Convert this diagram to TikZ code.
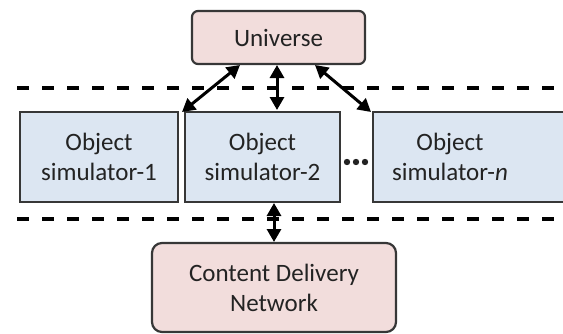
\documentclass[tikz,border=0pt]{standalone}
\usepackage{fontspec}
\setmainfont{Carlito}
\usetikzlibrary{arrows.meta,calc}
\definecolor{pinkfill}{RGB}{242,221,220}
\definecolor{bluefill}{RGB}{220,230,242}
\definecolor{edgec}{RGB}{55,55,55}
\definecolor{txt}{RGB}{35,35,35}
\begin{document}
\begin{tikzpicture}[x=0.5pt,y=-0.5pt,
  box/.style={draw=edgec,line width=1.1pt,text=txt,font=\fontsize{12.5}{15}\selectfont,align=center,inner sep=0pt},
  pinkbox/.style={box,fill=pinkfill},
  bluebox/.style={box,fill=bluefill},
  sepline/.style={draw=black,line width=2pt,dash pattern=on 6pt off 6.5pt},
  link/.style={{Triangle[length=6.5pt,width=7pt]}-{Triangle[length=6.5pt,width=7pt]},line width=1.5pt,draw=black}]
\useasboundingbox (0,0) rectangle (563,333);
% separators
\coordinate (s1a) at (17,88); \coordinate (s1b) at (566,88);
\coordinate (s2a) at (17,219); \coordinate (s2b) at (566,219);
\draw[sepline] (s1a) -- (s1b);
\draw[sepline] (s2a) -- (s2b);
% nodes
\node[pinkbox,rounded corners=3pt,minimum width=86.5pt,minimum height=26.5pt] (uni) at (278.5,37.5) {Universe};
\node[bluebox,minimum width=79pt,minimum height=45pt] (obj1) at (99,157) {Object\\simulator-1};
\node[bluebox,minimum width=77.5pt,minimum height=45pt] (obj2) at (262.5,157) {Object\\simulator-2};
\fill[bluefill] (373,112) rectangle (566,202);
\draw[edgec,line width=1.1pt] (568,112) -- (373,112) -- (373,202) -- (568,202);
\node[box,draw=none] (objn) at (450,157) {Object\\simulator-\emph{n}};
\node[pinkbox,rounded corners=5pt,minimum width=122pt,minimum height=44.5pt] (cdn) at (274,287.5) {Content Delivery\\Network};
% dots
\foreach \xx in {347,356,365} \fill[txt] (\xx,162) circle (1.6pt);
% connectors
\coordinate (u1) at (240,65); \coordinate (t1) at (182,112);
\coordinate (u2) at (277,65); \coordinate (t2) at (277,110);
\coordinate (u3) at (315,65); \coordinate (t3) at (371,112);
\coordinate (b1) at (274,203); \coordinate (b2) at (274,242);
\draw[link] (u1) -- (t1);
\draw[link] (u2) -- (t2);
\draw[link] (u3) -- (t3);
\draw[link] (b1) -- (b2);
\end{tikzpicture}
\end{document}
